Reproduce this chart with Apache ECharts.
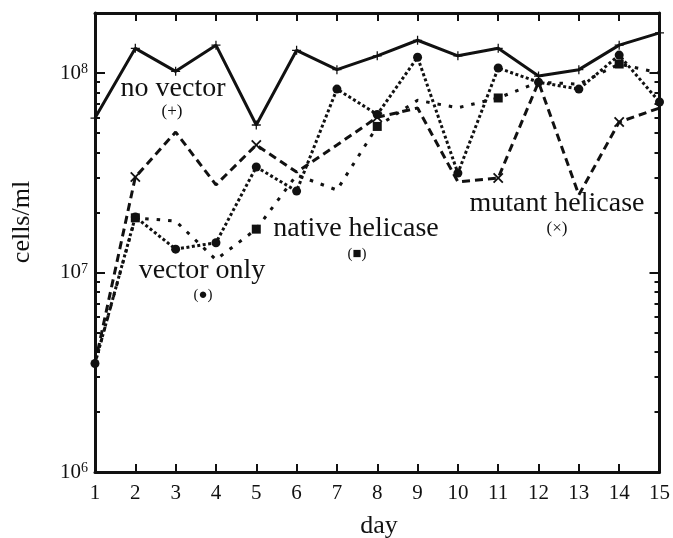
<!DOCTYPE html>
<html><head><meta charset="utf-8">
<script src="https://cdn.jsdelivr.net/npm/echarts@6/dist/echarts.min.js"></script>
<style>html,body{margin:0;padding:0;background:#fff}#c{width:673px;height:538px}</style>
</head><body><div id="c"></div>
<script>
// ---- data ----
const days = [1,2,3,4,5,6,7,8,9,10,11,12,13,14,15];
const noVector       = [5.95e7,1.33e8,1.02e8,1.38e8,5.49e7,1.30e8,1.04e8,1.22e8,1.46e8,1.22e8,1.33e8,9.66e7,1.04e8,1.38e8,1.59e8];
const vectorOnly     = [3.5e6,1.9e7,1.31e7,1.41e7,3.38e7,2.56e7,8.31e7,6.2e7,1.2e8,3.15e7,1.06e8,9.0e7,8.31e7,1.23e8,7.16e7];
const nativeHelicase = [3.5e6,1.88e7,1.81e7,1.16e7,1.65e7,3.08e7,2.59e7,5.4e7,7.3e7,6.7e7,7.5e7,9.0e7,8.8e7,1.11e8,1.0e8];
const mutantHelicase = [3.5e6,3.01e7,5.06e7,2.75e7,4.36e7,3.19e7,4.36e7,6.0e7,6.68e7,2.85e7,2.98e7,9.0e7,2.45e7,5.68e7,6.68e7];
const yMajorTicks = [1e6,1e7,1e8];
const yMinorTicks = [2e6,3e6,4e6,5e6,6e6,7e6,8e6,9e6,2e7,3e7,4e7,5e7,6e7,7e7,8e7,9e7,2e8];
const yAxisTitle = 'cells/ml';
const xAxisTitle = 'day';
const labels = {
  noVector: ['no vector','(+)'],
  vectorOnly: ['vector only','(\u25CF)'],
  nativeHelicase: ['native helicase','(\u25A0)'],
  mutantHelicase: ['mutant helicase','(\u00D7)']
};

// ---- chart ----
const F = 'Liberation Serif';
const INK = '#111';
const chart = echarts.init(document.getElementById('c'), null, {renderer:'canvas'});
const pairs = arr => arr.map((v,i)=>[days[i], v]);
const PLUS = 'path://M4.3,0H5.7V4.3H10V5.7H5.7V10H4.3V5.7H0V4.3H4.3Z';
const lineAx = {show:true, onZero:false, lineStyle:{color:INK, width:3}};
const yBase = {type:'log', logBase:10, min:1e6, max:2e8, gridIndex:0, splitLine:{show:false}, minorTick:{show:false}};
const supFmt = v => '{b|10}{s|' + Math.round(Math.log10(v)) + '}';

const option = {
  animation:false,
  backgroundColor:'#fff',
  grid:{left:95, right:11, top:13, bottom:66, containLabel:false},
  xAxis:[
    {type:'value', min:1, max:15, interval:1, position:'bottom', axisLine:lineAx,
     axisTick:{inside:true, length:8, lineStyle:{color:INK, width:2}},
     axisLabel:{margin:11, fontFamily:F, fontSize:21, color:INK, showMinLabel:true, showMaxLabel:true},
     splitLine:{show:false}},
    {type:'value', min:1, max:15, interval:1, position:'top', axisLine:lineAx,
     axisTick:{inside:true, length:8, lineStyle:{color:INK, width:2}},
     axisLabel:{show:false}, splitLine:{show:false}}
  ],
  yAxis:[
    Object.assign({}, yBase, {position:'left', axisLine:lineAx,
      axisTick:{inside:true, length:10, customValues:yMajorTicks, lineStyle:{color:INK, width:2}},
      axisLabel:{customValues:yMajorTicks, margin:7, formatter:supFmt,
        rich:{b:{fontFamily:F, fontSize:21, color:INK}, s:{fontFamily:F, fontSize:14, color:INK, verticalAlign:'top'}}}}),
    Object.assign({}, yBase, {position:'left', axisLine:{show:false},
      axisTick:{inside:true, length:5, customValues:yMinorTicks, lineStyle:{color:INK, width:2}},
      axisLabel:{show:false}}),
    Object.assign({}, yBase, {position:'right', axisLine:lineAx,
      axisTick:{inside:true, length:10, customValues:yMajorTicks, lineStyle:{color:INK, width:2}},
      axisLabel:{show:false}}),
    Object.assign({}, yBase, {position:'right', axisLine:{show:false},
      axisTick:{inside:true, length:5, customValues:yMinorTicks, lineStyle:{color:INK, width:2}},
      axisLabel:{show:false}})
  ],
  series:[
    {name:'mutant helicase', type:'line', data:pairs(mutantHelicase), yAxisIndex:0,
     lineStyle:{color:INK, width:3, type:[8,5]},
     symbol:PLUS, symbolRotate:45, symbolKeepAspect:true,
     symbolSize:(v,p)=> (p.dataIndex % 3 === 1 ? 13 : 0),
     itemStyle:{color:INK}, z:3},
    {name:'native helicase', type:'line', data:pairs(nativeHelicase), yAxisIndex:0,
     lineStyle:{color:INK, width:3, type:[3.5,8]},
     symbol:'rect', symbolSize:(v,p)=> (p.dataIndex % 3 === 1 ? 9 : 0),
     itemStyle:{color:INK}, z:4},
    {name:'vector only', type:'line', data:pairs(vectorOnly), yAxisIndex:0,
     lineStyle:{color:INK, width:3, type:[3,2.5]},
     symbol:'circle', symbolSize:9, itemStyle:{color:INK}, z:5},
    {name:'no vector', type:'line', data:pairs(noVector), yAxisIndex:0,
     lineStyle:{color:INK, width:3, type:'solid'},
     symbol:PLUS, symbolSize:9, symbolKeepAspect:true, itemStyle:{color:INK}, z:6}
  ],
  graphic:[
    {type:'text', x:22, y:222, rotation:Math.PI/2, style:{text:yAxisTitle, font:'26px "Liberation Serif"', fill:INK, align:'center', verticalAlign:'middle'}},
    {type:'text', x:379, y:526, style:{text:xAxisTitle, font:'26px "Liberation Serif"', fill:INK, align:'center', verticalAlign:'middle'}},
    {type:'text', x:173, y:89, style:{text:labels.noVector[0], font:'28px "Liberation Serif"', fill:INK, align:'center', verticalAlign:'middle'}},
    {type:'text', x:172, y:112, style:{text:labels.noVector[1], font:'17px "Liberation Serif"', fill:INK, align:'center', verticalAlign:'middle'}},
    {type:'text', x:202, y:271, style:{text:labels.vectorOnly[0], font:'28px "Liberation Serif"', fill:INK, align:'center', verticalAlign:'middle'}},
    {type:'text', x:203, y:295, style:{text:labels.vectorOnly[1], font:'15px "Liberation Serif"', fill:INK, align:'center', verticalAlign:'middle'}},
    {type:'text', x:356, y:229, style:{text:labels.nativeHelicase[0], font:'28px "Liberation Serif"', fill:INK, align:'center', verticalAlign:'middle'}},
    {type:'text', x:357, y:254, style:{text:labels.nativeHelicase[1], font:'15px "Liberation Serif"', fill:INK, align:'center', verticalAlign:'middle'}},
    {type:'text', x:557, y:204, style:{text:labels.mutantHelicase[0], font:'28px "Liberation Serif"', fill:INK, align:'center', verticalAlign:'middle'}},
    {type:'text', x:557, y:229, style:{text:labels.mutantHelicase[1], font:'17px "Liberation Serif"', fill:INK, align:'center', verticalAlign:'middle'}}
  ]
};
chart.setOption(option);
</script></body></html>
